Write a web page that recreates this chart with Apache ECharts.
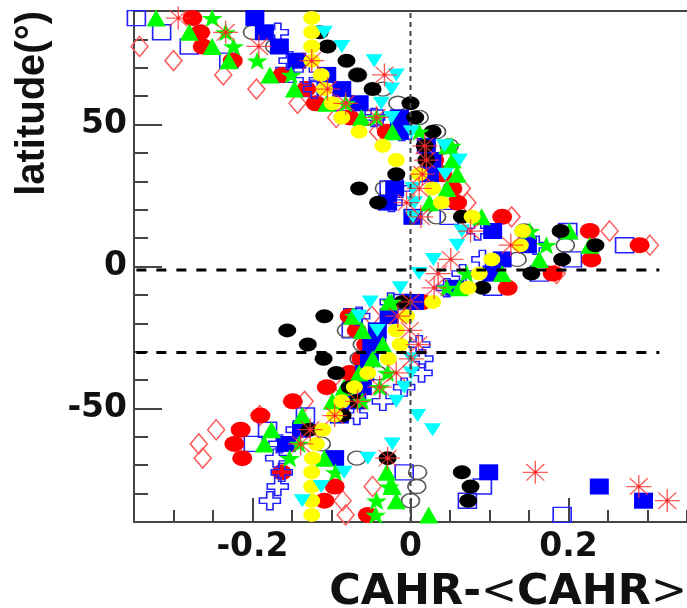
<!DOCTYPE html>
<html>
<head>
<meta charset="utf-8">
<style>html,body{margin:0;padding:0;background:#fff}#c{width:687px;height:608px}</style>
<script src="https://cdn.jsdelivr.net/npm/echarts@6/dist/echarts.min.js"></script>
</head>
<body>
<div id="c"></div>
<script>
var latitudes = [87.5,82.5,77.5,72.5,67.5,62.5,57.5,52.5,47.5,42.5,37.5,32.5,27.5,22.5,17.5,12.5,7.5,2.5,-2.5,-7.5,-12.5,-17.5,-22.5,-27.5,-32.5,-37.5,-42.5,-47.5,-52.5,-57.5,-62.5,-67.5,-72.5,-77.5,-82.5,-87.5];
var diamondOpen = [null,null,-0.343,-0.300,-0.237,-0.195,-0.143,-0.094,-0.041,null,0.046,null,0.065,0.072,0.128,0.252,0.303,null,0.185,null,null,-0.049,null,null,null,null,-0.086,-0.134,-0.191,-0.246,-0.268,-0.263,null,-0.048,-0.086,-0.082];
var squareOpen = [-0.347,-0.315,-0.280,-0.230,-0.159,-0.128,-0.084,-0.046,-0.010,null,null,null,-0.027,null,0.049,0.199,0.271,0.205,0.163,0.104,-0.010,-0.073,-0.075,-0.043,null,null,null,null,-0.133,-0.181,-0.199,null,-0.008,0.091,0.072,0.192];
var circleOpen = [null,-0.200,-0.172,null,-0.067,-0.035,-0.016,0.011,0.033,0.049,0.047,null,-0.033,-0.035,0.033,0.144,0.196,0.135,0.100,null,null,-0.077,-0.081,-0.061,-0.065,-0.042,-0.071,null,null,null,-0.113,-0.068,0.009,0.008,0.000,null];
var circleRed = [-0.276,-0.266,-0.263,-0.225,-0.162,-0.132,-0.120,-0.077,-0.030,0.020,0.030,0.040,0.053,0.059,0.116,0.227,0.290,0.229,0.180,0.123,0.015,-0.077,-0.068,-0.056,-0.062,-0.077,-0.106,-0.149,-0.190,-0.215,-0.223,-0.213,-0.163,-0.096,-0.109,-0.054];
var crossOpen = [null,-0.168,null,-0.153,-0.132,-0.122,null,-0.046,-0.011,null,null,null,-0.014,-0.024,null,0.085,0.159,0.091,0.066,0.046,-0.025,-0.065,null,0.011,0.015,0.014,-0.008,-0.035,-0.068,-0.144,-0.166,-0.170,-0.163,-0.168,-0.178,null];
var squareBlue = [-0.197,-0.185,-0.166,-0.144,-0.106,-0.087,-0.065,-0.014,-0.014,0.020,0.027,0.024,-0.020,-0.029,0.003,0.104,0.148,0.116,0.103,0.056,0.005,-0.027,-0.042,-0.049,-0.052,-0.058,-0.061,-0.068,-0.090,-0.138,-0.157,-0.096,0.099,0.239,0.295,null];
var triangleGreen = [-0.322,-0.280,-0.251,-0.230,-0.178,-0.147,-0.106,-0.062,-0.023,0.047,0.053,0.059,0.046,0.024,0.090,0.201,0.227,0.163,0.116,0.062,-0.027,-0.073,-0.061,-0.035,-0.048,-0.065,-0.084,-0.099,-0.137,-0.176,-0.185,-0.109,-0.030,-0.023,-0.018,0.023];
var circleBlack = [null,-0.115,-0.105,-0.081,-0.067,-0.048,0.000,0.006,0.028,0.018,0.020,-0.018,-0.065,-0.041,0.065,0.190,0.234,0.192,0.153,0.091,-0.010,-0.109,-0.156,-0.130,-0.110,-0.094,-0.077,-0.068,-0.086,-0.128,null,-0.029,0.065,0.076,0.073,null];
var starGreen = [-0.251,-0.234,-0.224,-0.194,-0.151,null,-0.082,-0.043,0.011,0.052,null,null,null,null,null,0.151,0.172,null,0.071,0.046,-0.024,-0.071,null,null,null,-0.029,-0.039,-0.061,null,null,-0.141,-0.153,-0.095,-0.027,-0.043,-0.044];
var circleYellow = [-0.125,-0.125,-0.125,-0.125,-0.113,-0.109,-0.099,-0.087,-0.065,-0.035,-0.018,0.011,0.028,0.039,0.078,0.142,0.139,0.103,0.087,0.073,0.028,-0.005,-0.018,-0.013,-0.028,-0.054,-0.071,-0.087,-0.096,-0.111,-0.119,-0.124,-0.125,-0.125,-0.125,-0.125];
var triangleCyan = [null,-0.109,-0.087,-0.046,-0.018,-0.024,-0.037,-0.024,0.001,0.043,0.062,0.044,0.003,0.005,0.003,0.065,0.059,0.029,0.011,-0.013,-0.051,-0.065,-0.042,null,0.001,0.001,-0.008,-0.018,0.009,0.028,-0.023,-0.054,-0.084,-0.113,-0.137,null];
var asteriskRed = [-0.294,-0.234,-0.192,-0.125,-0.033,-0.105,-0.082,-0.043,null,0.018,0.020,0.015,0.011,-0.005,0.013,0.076,0.127,0.051,0.035,0.030,0.000,-0.016,-0.001,0.010,0.001,-0.018,-0.039,-0.067,-0.096,-0.127,-0.139,-0.029,0.158,0.289,0.325,null];

var xMajorTicks = [-0.2, 0, 0.2];
var yMajorTicks = [-50, 0, 50];
var equatorLine = [[-0.347,-1.2],[0.315,-1.2]];
var southLine = [[-0.347,-30.3],[0.315,-30.3]];
var zeroLine = [[0,-90],[0,90]];

var STAR = 'path://M0 -10 L2.6 -3.1 L9.5 -3.1 L4 1.2 L5.9 8.1 L0 4 L-5.9 8.1 L-4 1.2 L-9.5 -3.1 L-2.6 -3.1 Z';
var CROSS = 'path://M-3 -10 L3 -10 L3 -3 L10 -3 L10 3 L3 3 L3 10 L-3 10 L-3 3 L-10 3 L-10 -3 L-3 -3 Z';
var ASTER = 'path://M0 -10 L0 10 M-10 0 L10 0 M-7.2 -7.2 L7.2 7.2 M-7.2 7.2 L7.2 -7.2 M-1.6 0 L0 -1.6 L1.6 0 L0 1.6 Z';

function pts(values){
  var out = [];
  values.forEach(function(v,i){ if(v !== null) out.push([v, latitudes[i]]); });
  return out;
}
function mark(name, values, symbol, size, style, rotate){
  style.opacity = 1;
  return {name:name, type:'scatter', data:pts(values), symbol:symbol, symbolSize:size,
    symbolRotate:rotate||0, itemStyle:style, silent:true, animation:false, clip:true};
}
function refLine(data, color, width, dash){
  return {type:'line', data:data, symbol:'none', silent:true, animation:false,
    lineStyle:{color:color,width:width,type:dash}};
}
var open = function(c,w){ return {color:'rgba(0,0,0,0)', borderColor:c, borderWidth:w}; };

var series = [
  refLine(zeroLine,'#444',2,[5,4]),
  mark('diamond',diamondOpen,'diamond',[17,20],open('#ff5a5a',1.5)),
  mark('square open',squareOpen,'rect',[18,15],open('#2222ff',1.5)),
  mark('circle open',circleOpen,'circle',[18,14],open('#555',1.5)),
  mark('circle red',circleRed,'circle',[20,16],{color:'#ff0000'}),
  mark('cross',crossOpen,CROSS,[21,18],open('#2222ff',1.5)),
  mark('square blue',squareBlue,'rect',[19,16],{color:'#0000ff'}),
  mark('triangle green',triangleGreen,'triangle',[19,17],{color:'#00ff00'}),
  mark('circle black',circleBlack,'circle',[18,14],{color:'#000'}),
  mark('star',starGreen,STAR,[21,18],{color:'#00ff00'}),
  mark('circle yellow',circleYellow,'circle',[17,14],{color:'#ffff00'}),
  mark('triangle cyan',triangleCyan,'triangle',[17,13],{color:'#00ffff'},180),
  mark('asterisk',asteriskRed,ASTER,[25,23],{color:'#ff0000',borderColor:'rgba(255,50,50,0.8)',borderWidth:1.3}),
  refLine(equatorLine,'#000',3,[10,10]),
  refLine(southLine,'#000',3,[10,10])
];

var labelFont = {color:'#111',fontFamily:'DejaVu Sans',fontWeight:'bold',fontSize:33};
var axLine = {onZero:false,lineStyle:{color:'#444',width:2}};
var chart = echarts.init(document.getElementById('c'),null,{renderer:'canvas'});
chart.setOption({
  animation:false,
  backgroundColor:'#fff',
  grid:{left:134,top:11,width:553,height:511,show:false,outerBoundsMode:'none',containLabel:false},
  xAxis:[
    {type:'value',min:-0.35,max:0.35,position:'bottom',splitLine:{show:false},axisLine:axLine,
     axisTick:{inside:true,length:24,customValues:xMajorTicks,lineStyle:{color:'#444',width:2}},
     axisLabel:Object.assign({customValues:xMajorTicks,margin:9},labelFont),
     name:'{b|CAHR-}{t|<}{b|CAHR}{t|>}',nameLocation:'end',nameGap:0,
     nameTextStyle:{align:'right',verticalAlign:'top',padding:[49,0,0,0],
       rich:{b:{fontFamily:'DejaVu Sans',fontWeight:'bold',fontSize:43,color:'#111'},
             t:{fontFamily:'DejaVu Sans',fontWeight:'normal',fontSize:43,color:'#111'}}}},
    {type:'value',min:-0.35,max:0.35,interval:0.05,position:'bottom',splitLine:{show:false},axisLine:{show:false,onZero:false},
     axisTick:{inside:true,length:12,lineStyle:{color:'#444',width:2}},axisLabel:{show:false}},
    {type:'value',min:-0.35,max:0.35,position:'top',splitLine:{show:false},axisLine:axLine,axisTick:{show:false},axisLabel:{show:false}}
  ],
  yAxis:[
    {type:'value',min:-90,max:90,position:'left',splitLine:{show:false},axisLine:axLine,
     axisTick:{inside:true,length:28,customValues:yMajorTicks,lineStyle:{color:'#444',width:2}},
     axisLabel:Object.assign({customValues:yMajorTicks,margin:7,padding:[4,0,0,0]},labelFont),
     name:'latitude(°)',nameLocation:'end',nameRotate:90,nameGap:0,
     nameTextStyle:{fontFamily:'Liberation Sans',fontWeight:'bold',fontSize:40,color:'#111',align:'right',verticalAlign:'bottom',padding:[0,0,81,0]}},
    {type:'value',min:-90,max:90,interval:10,position:'left',splitLine:{show:false},axisLine:{show:false,onZero:false},
     axisTick:{inside:true,length:14,lineStyle:{color:'#444',width:2}},axisLabel:{show:false}}
  ],
  series:series
});
</script>
</body>
</html>
